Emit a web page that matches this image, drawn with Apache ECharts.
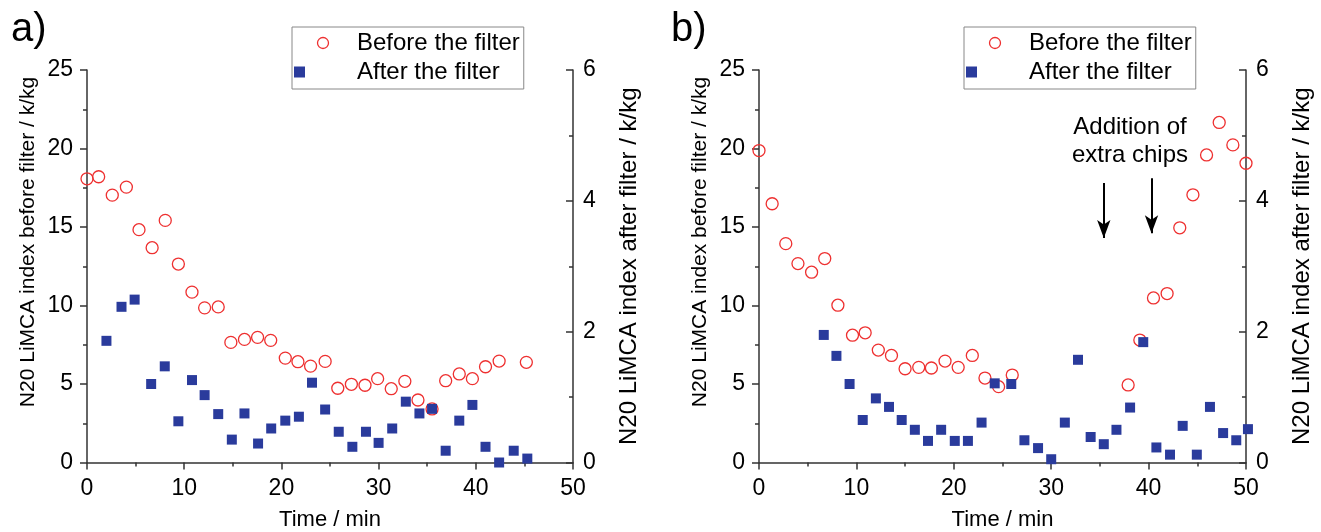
<!DOCTYPE html>
<html>
<head>
<meta charset="utf-8">
<script src="https://cdn.jsdelivr.net/npm/echarts@6/dist/echarts.min.js"></script>
<style>
    html, body { margin: 0; padding: 0; background: #fff; }
    #chart { width: 1321px; height: 532px; }
</style>
</head>
<body>
<div id="chart"></div>
<script>
// a) 过滤前 / 过滤后
var timeBeforeA = [0, 1.2, 2.6, 4.05, 5.35, 6.7, 8.05, 9.4, 10.8, 12.1, 13.5, 14.8, 16.2, 17.55, 18.9, 20.4, 21.7, 23.0,
    24.5, 25.8, 27.2, 28.6, 29.9, 31.3, 32.7, 34.05, 35.5, 36.9, 38.3, 39.65, 41.0, 42.4, 45.2];
var valBeforeA = [18.07, 18.2, 17.03, 17.54, 14.83, 13.68, 15.42, 12.64, 10.85, 9.85, 9.91, 7.65, 7.84, 7.97, 7.78, 6.65, 6.42, 6.14,
    6.44, 4.73, 4.98, 4.92, 5.34, 4.70, 5.17, 3.98, 3.41, 5.21, 5.64, 5.34, 6.10, 6.46, 6.38];
var timeAfterA = [2.0, 3.55, 4.9, 6.6, 8.0, 9.4, 10.8, 12.1, 13.5, 14.9, 16.2, 17.6, 18.95, 20.4, 21.8, 23.15,
    24.5, 25.9, 27.3, 28.7, 30.0, 31.4, 32.8, 34.2, 35.5, 36.9, 38.3, 39.65, 41.0, 42.4, 43.9, 45.3];
var valAfterA = [1.86, 2.38, 2.49, 1.20, 1.47, 0.63, 1.26, 1.03, 0.74, 0.35, 0.75, 0.29, 0.52, 0.64, 0.70, 1.22,
    0.81, 0.47, 0.24, 0.47, 0.30, 0.52, 0.93, 0.75, 0.82, 0.18, 0.64, 0.88, 0.24, 0.0, 0.18, 0.06];

// b) 过滤前 / 过滤后
var timeBeforeB = [0, 1.35, 2.75, 4.0, 5.4, 6.75, 8.1, 9.6, 10.9, 12.25, 13.6, 15.0, 16.4, 17.7, 19.1, 20.45, 21.9, 23.2,
    24.6, 26.0, 37.9, 39.1, 40.5, 41.9, 43.2, 44.55, 45.95, 47.25, 48.65, 50.0];
var valBeforeB = [19.87, 16.48, 13.94, 12.67, 12.12, 12.99, 10.02, 8.11, 8.26, 7.16, 6.82, 5.97, 6.06, 6.02, 6.46, 6.06, 6.82, 5.38,
    4.83, 5.57, 4.94, 7.80, 10.48, 10.76, 14.95, 17.05, 19.59, 21.66, 20.23, 19.06];
var timeAfterB = [6.65, 7.95, 9.3, 10.65, 12.0, 13.35, 14.65, 16.0, 17.35, 18.7, 20.1, 21.45, 22.85, 24.2, 25.9, 27.25, 28.65,
    30.0, 31.4, 32.75, 34.05, 35.4, 36.7, 38.1, 39.45, 40.8, 42.2, 43.5, 44.95, 46.3, 47.65, 49.0, 50.2];
var valAfterB = [1.95, 1.63, 1.20, 0.65, 0.98, 0.85, 0.65, 0.50, 0.33, 0.50, 0.33, 0.33, 0.61, 1.21, 1.20, 0.34, 0.22,
    0.05, 0.61, 1.57, 0.39, 0.28, 0.50, 0.84, 1.84, 0.23, 0.12, 0.56, 0.12, 0.85, 0.45, 0.34, 0.51];

// 加料箭头 (b)
var arrowX = [35.4, 40.3];
var arrowTop = [17.8, 18.1];
var arrowBottom = [14.3, 14.6];

var seriesNames = ["Before the filter", "After the filter"];
var leftTitle = "N20 LiMCA index before filter / k/kg";
var rightTitle = "N20 LiMCA index after filter / k/kg";
var xTitle = "Time / min";

var FONT = "'Liberation Sans', Arial, sans-serif";
var RED = "#ee3030";
var BLUE = "#2a3b9c";
var AXIS = "#333";

function zip(xs, ys) {
    return xs.map(function (x, i) { return [x, ys[i]]; });
}

var chart = echarts.init(document.getElementById("chart"));

function makeX(gridIndex) {
    return {
        type: "value", gridIndex: gridIndex, min: 0, max: 50, interval: 10,
        name: xTitle, nameLocation: "middle", nameGap: 46,
        nameTextStyle: {fontSize: 22, color: "#000", fontFamily: FONT},
        axisLine: {lineStyle: {color: AXIS, width: 1.5}},
        axisTick: {length: 7, lineStyle: {color: AXIS, width: 1.5}},
        minorTick: {show: true, splitNumber: 2, length: 4, lineStyle: {color: AXIS, width: 1.5}},
        axisLabel: {fontSize: 23, color: "#000", fontFamily: FONT, margin: 15},
        splitLine: {show: false}
    };
}
function makeYLeft(gridIndex) {
    return {
        type: "value", gridIndex: gridIndex, position: "left", min: 0, max: 25, interval: 5,
        axisLine: {show: true, lineStyle: {color: AXIS, width: 1.5}},
        axisTick: {show: true, length: 7, lineStyle: {color: AXIS, width: 1.5}},
        minorTick: {show: true, splitNumber: 2, length: 4, lineStyle: {color: AXIS, width: 1.5}},
        axisLabel: {fontSize: 23, color: "#000", fontFamily: FONT, margin: 14},
        splitLine: {show: false}
    };
}
function makeYRight(gridIndex) {
    return {
        type: "value", gridIndex: gridIndex, position: "right", min: 0, max: 6, interval: 2,
        name: rightTitle, nameLocation: "middle", nameRotate: 90, nameGap: 44,
        nameTextStyle: {fontSize: 24, color: "#000", fontFamily: FONT},
        axisLine: {show: true, lineStyle: {color: AXIS, width: 1.5}},
        axisTick: {show: true, inside: true, length: 7, lineStyle: {color: AXIS, width: 1.5}},
        minorTick: {show: true, splitNumber: 2, length: 4, lineStyle: {color: AXIS, width: 1.5}},
        axisLabel: {fontSize: 23, color: "#000", fontFamily: FONT, margin: 10},
        splitLine: {show: false}
    };
}
function makeLegend(left) {
    return {
        left: left, top: 27, orient: "vertical", data: seriesNames,
        itemWidth: 58, itemHeight: 11, itemGap: 3, padding: [3, 4, 4, 2],
        borderColor: "#888", borderWidth: 1, backgroundColor: "#fff",
        itemStyle: {borderWidth: 1.3},
        textStyle: {fontSize: 24, lineHeight: 26, color: "#000", fontFamily: FONT}
    };
}
function beforeSeries(idx, data) {
    return {
        name: seriesNames[0], type: "scatter", xAxisIndex: idx, yAxisIndex: idx * 2,
        symbol: "circle", symbolSize: 12, clip: false, data: data,
        itemStyle: {color: "rgba(255,255,255,0)", borderColor: RED, borderWidth: 1.3, opacity: 1}
    };
}
function afterSeries(idx, data) {
    return {
        name: seriesNames[1], type: "scatter", xAxisIndex: idx, yAxisIndex: idx * 2 + 1,
        symbol: "square", symbolSize: 10, clip: false, data: data,
        itemStyle: {color: BLUE, opacity: 1}
    };
}

var arrows = arrowX.map(function (x, i) {
    return [{coord: [x, arrowTop[i]]}, {coord: [x, arrowBottom[i]]}];
});

var serB0 = beforeSeries(1, zip(timeBeforeB, valBeforeB));
serB0.markLine = {
    silent: true, symbol: ["none", "arrow"], symbolSize: [10, 18],
    label: {show: false},
    lineStyle: {color: "#000", width: 2, type: "solid"},
    data: arrows
};

var option = {
    animation: false,
    textStyle: {fontFamily: FONT},
    grid: [
        {left: 87, top: 70, width: 486, height: 392.5, outerBoundsMode: "none", containLabel: false},
        {left: 759, top: 70, width: 487, height: 392.5, outerBoundsMode: "none", containLabel: false}
    ],
    xAxis: [makeX(0), makeX(1)],
    yAxis: [makeYLeft(0), makeYRight(0), makeYLeft(1), makeYRight(1)],
    legend: [makeLegend(292), makeLegend(964)],
    graphic: [
        {type: "text", left: 11, top: 10, style: {text: "a)", fontSize: 40, fill: "#000", fontFamily: FONT}},
        {type: "text", left: 671, top: 10, style: {text: "b)", fontSize: 40, fill: "#000", fontFamily: FONT}},
        {type: "text", x: 28, y: 242, rotation: Math.PI / 2,
            style: {text: leftTitle, fontSize: 21, fill: "#000", fontFamily: FONT, align: "center", verticalAlign: "middle"}},
        {type: "text", x: 700, y: 242, rotation: Math.PI / 2,
            style: {text: leftTitle, fontSize: 21, fill: "#000", fontFamily: FONT, align: "center", verticalAlign: "middle"}},
        {type: "text", x: 1130, y: 141,
            style: {text: "Addition of\nextra chips", fontSize: 24, lineHeight: 28, fill: "#000", fontFamily: FONT,
                align: "center", verticalAlign: "middle"}}
    ],
    series: [
        beforeSeries(0, zip(timeBeforeA, valBeforeA)),
        afterSeries(0, zip(timeAfterA, valAfterA)),
        serB0,
        afterSeries(1, zip(timeAfterB, valAfterB))
    ]
};
chart.setOption(option);
</script>
</body>
</html>
